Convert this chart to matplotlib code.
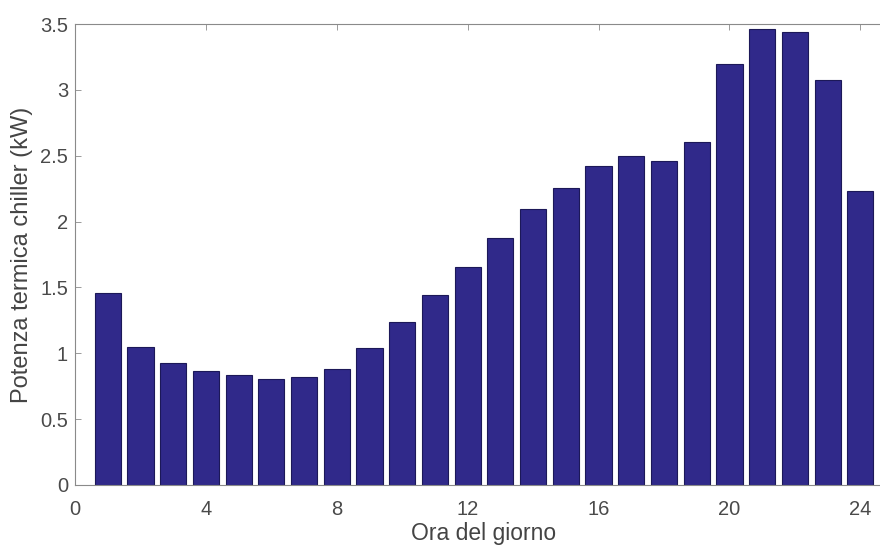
import matplotlib
matplotlib.use("Agg")
import matplotlib.pyplot as plt
import numpy as np

hours = list(range(1, 25))
power_kw = [1.46, 1.05, 0.924, 0.868, 0.833, 0.802, 0.818, 0.878, 1.043, 1.235, 1.445, 1.658,
            1.878, 2.096, 2.253, 2.422, 2.50, 2.463, 2.602, 3.199, 3.465, 3.437, 3.073, 2.235]
xticks = [0, 4, 8, 12, 16, 20, 24]
yticks = [0, 0.5, 1, 1.5, 2, 2.5, 3, 3.5]
ytick_labels = ["0", "0.5", "1", "1.5", "2", "2.5", "3", "3.5"]

plt.rcParams['font.family'] = ['Liberation Sans', 'DejaVu Sans']

W, H = 880, 546
fig = plt.figure(figsize=(8.8, 5.46), dpi=100)
ax_l, ax_b, ax_t = 75, 485, 24
ax = fig.add_axes([ax_l/W, 1-ax_b/H, 1-ax_l/W, (ax_b-ax_t)/H])

ax.bar(hours, power_kw, width=0.8, color='#30298a', edgecolor='#1c1858', linewidth=0.8, zorder=2)

ax.set_xlim(0, 24.6)
ax.set_ylim(0, 3.5)
ax.set_xticks(xticks)
ax.set_yticks(yticks)
ax.set_yticklabels(ytick_labels)

spine_c = '#8a8a8a'
for s in ['left', 'bottom', 'top']:
    ax.spines[s].set_color(spine_c)
    ax.spines[s].set_linewidth(0.8)
ax.spines['right'].set_visible(False)

ax.tick_params(axis='both', direction='in', length=4, width=0.6, color=spine_c,
               labelsize=14.5, labelcolor='#4a4a4a', top=True, right=False)
ax.tick_params(axis='x', pad=11)
ax.tick_params(axis='y', pad=5)

# x label: centred at x ~ 484 px, bottom at ~545 px
fig.text(484/W, 1-545/H, "Ora del giorno", fontsize=16.5, color='#444444',
         ha='center', va='bottom')
# y label: centred at x ~ 22 px, y ~ 255 px
fig.text(22/W, 1-255/H, "Potenza termica chiller (kW)", fontsize=17, color='#444444',
         ha='center', va='center', rotation=90)

fig.savefig("out.png", dpi=100)
